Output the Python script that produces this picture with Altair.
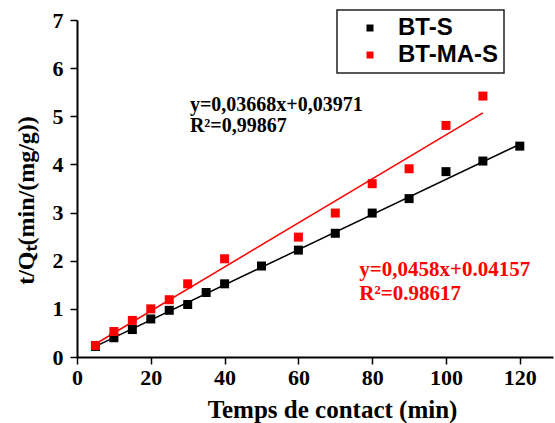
import altair as alt
import pandas as pd

# ---- data ----
bts_x = [5, 10, 15, 20, 25, 30, 35, 40, 50, 60, 70, 80, 90, 100, 110, 120]
bts_y = [0.22, 0.40, 0.57, 0.79, 0.97, 1.09, 1.34, 1.52, 1.89, 2.22, 2.57, 2.99, 3.29, 3.85, 4.07, 4.38]
btmas_x = [5, 10, 15, 20, 25, 30, 40, 60, 70, 80, 90, 100, 110]
btmas_y = [0.24, 0.53, 0.76, 1.00, 1.19, 1.52, 2.04, 2.49, 2.99, 3.60, 3.91, 4.81, 5.42]

# fitted lines (end points)
fit_bts_x = [5, 120]
fit_bts_y = [0.22, 4.42]
fit_btmas_x = [5, 110]
fit_btmas_y = [0.27, 5.07]

series = ["BT-S", "BT-MA-S"]
colors = ["#000000", "#ff0000"]

eq_bts = ["y=0,03668x+0,03971", "R²=0,99867"]
eq_btmas = ["y=0,0458x+0.04157", "R²=0.98617"]

x_ticks = list(range(0, 130, 10))
y_ticks = [i / 2 for i in range(0, 15)]

pts = pd.concat([
    pd.DataFrame({"x": bts_x, "y": bts_y, "series": "BT-S", "order": 0}),
    pd.DataFrame({"x": btmas_x, "y": btmas_y, "series": "BT-MA-S", "order": 1}),
])
fit1 = pd.DataFrame({"x": fit_bts_x, "y": fit_bts_y})
fit2 = pd.DataFrame({"x": fit_btmas_x, "y": fit_btmas_y})

SERIF = "Liberation Serif"

xscale = alt.Scale(domain=[0, 129], nice=False, zero=False)
yscale = alt.Scale(domain=[0, 7], nice=False)

xaxis = alt.Axis(
    values=x_ticks,
    labelExpr="datum.value % 20 === 0 ? datum.label : ''",
    tickSize={"condition": {"test": "datum.value % 20 === 0", "value": 7}, "value": 4},
    labelFlush=False, labelOverlap=False, grid=False,
    labelFont=SERIF, labelFontWeight="bold", labelFontSize=22, labelColor="black",
    labelPadding=3,
    title="Temps de contact (min)", titleFont=SERIF, titleFontWeight="bold",
    titleFontSize=25, titleColor="black", titleX=255, titleY=60,
    titleBaseline="alphabetic",
    domainColor="black", domainWidth=2, tickColor="black", tickWidth=1.5,
)
yaxis = alt.Axis(
    values=y_ticks,
    labelExpr="datum.value % 1 === 0 ? datum.label : ''",
    tickSize={"condition": {"test": "datum.value % 1 === 0", "value": 7}, "value": 4},
    labelFlush=False, labelOverlap=False, grid=False,
    labelFont=SERIF, labelFontWeight="bold", labelFontSize=22, labelColor="black",
    labelPadding=7,
    title="t/Qₜ(min/(mg/g))", titleFont=SERIF, titleFontWeight="bold",
    titleFontSize=24, titleColor="black", titleX=-44, titleY=180,
    titleBaseline="alphabetic", titleAngle=270,
    domainColor="black", domainWidth=2, tickColor="black", tickWidth=1.5,
)

line1 = alt.Chart(fit1).mark_line(strokeWidth=1.5, color=colors[0]).encode(
    x=alt.X("x:Q", scale=xscale, axis=xaxis),
    y=alt.Y("y:Q", scale=yscale, axis=yaxis),
)
line2 = alt.Chart(fit2).mark_line(strokeWidth=1.5, color=colors[1]).encode(
    x=alt.X("x:Q", scale=xscale),
    y=alt.Y("y:Q", scale=yscale),
)

points = alt.Chart(pts).mark_square(size=81, filled=True, opacity=1).encode(
    x=alt.X("x:Q", scale=xscale),
    y=alt.Y("y:Q", scale=yscale),
    color=alt.Color(
        "series:N",
        scale=alt.Scale(domain=series, range=colors),
        legend=alt.Legend(
            title=None, orient="none", legendX=260, legendY=-10,
            symbolType="square", symbolSize=49, symbolOpacity=1,
            labelFont="Liberation Sans", labelFontWeight="bold", labelFontSize=24,
            labelColor="black", padding=6, symbolOffset=15, labelOffset=16,
            rowPadding=3, strokeColor="#222222",
        ),
    ),
    order="order:Q",
)

ann_bts = pd.DataFrame({"x": [30.6, 30.6], "y": [5.12, 4.67], "t": eq_bts})
ann_btmas = pd.DataFrame({"x": [76.5, 76.5], "y": [1.68, 1.19], "t": eq_btmas})

txt1 = alt.Chart(ann_bts).mark_text(
    font=SERIF, fontWeight="bold", fontSize=20, color="black",
    align="left", baseline="alphabetic",
).encode(x=alt.X("x:Q", scale=xscale), y=alt.Y("y:Q", scale=yscale), text="t:N")

txt2 = alt.Chart(ann_btmas).mark_text(
    font=SERIF, fontWeight="bold", fontSize=21, color="#ff0000",
    align="left", baseline="alphabetic",
).encode(x=alt.X("x:Q", scale=xscale), y=alt.Y("y:Q", scale=yscale), text="t:N")

chart = alt.layer(line1, line2, points, txt1, txt2).properties(
    width=476, height=337,
    autosize=alt.AutoSizeParams(type="none"),
    padding={"left": 77, "top": 20, "right": 2, "bottom": 66},
).configure_view(stroke=None).configure_legend(strokeWidth=1.5)

chart.save("out.html", embed_options={"renderer": "svg", "actions": False})
